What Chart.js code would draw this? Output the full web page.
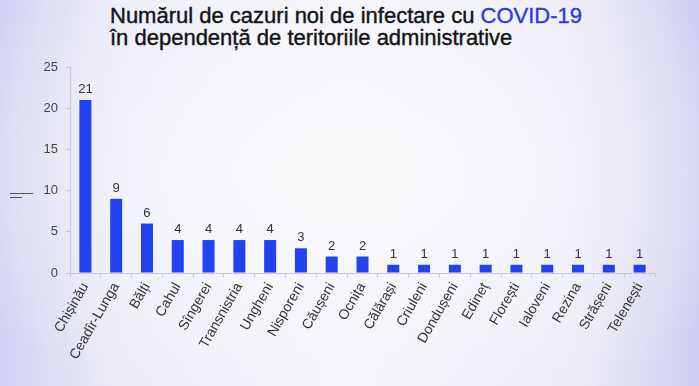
<!DOCTYPE html>
<html>
<head>
<meta charset="utf-8">
<script src="https://cdn.jsdelivr.net/npm/chart.js@4"></script>
<style>
  html, body { margin: 0; padding: 0; }
  body {
    width: 699px; height: 386px; overflow: hidden; position: relative;
    background:
      radial-gradient(ellipse 60% 70% at 50% 45%, rgba(250,250,252,1) 0%, rgba(246,246,251,0.6) 55%, rgba(246,246,251,0) 100%),
      linear-gradient(to right, #d2d2f4 0%, #ececf8 18%, #f4f4f9 50%, #ececf8 82%, #cfcff2 100%);
  }
  #title {
    position: absolute; left: 110px; top: 5px;
    font-family: "Liberation Sans", Arial, sans-serif; font-size: 22px; line-height: 22px;
    color: #141418; -webkit-text-stroke: 0.4px #141418;
  }
  #title .hl { color: #2b3fd6; -webkit-text-stroke: 0.4px #2b3fd6; }
  .mark { position: absolute; height: 1px; background: #555; }
  canvas { position: absolute; left: 0; top: 0; }
</style>
</head>
<body>
<div id="title">Numărul de cazuri noi de infectare cu <span class="hl">COVID-19</span><br>în dependență de teritoriile administrative</div>
<div class="mark" style="left:10px; top:193px; width:23px;"></div>
<div class="mark" style="left:10px; top:197px; width:12px;"></div>
<canvas id="chart" width="699" height="386"></canvas>
<script>
const categories = ['Chișinău', 'Ceadîr-Lunga', 'Bălți', 'Cahul', 'Sîngerei', 'Transnistria', 'Ungheni',
  'Nisporeni', 'Căușeni', 'Ocnița', 'Călărași', 'Criuleni', 'Dondușeni', 'Edineț', 'Florești',
  'Ialoveni', 'Rezina', 'Strășeni', 'Telenești'];
const cases = [21, 9, 6, 4, 4, 4, 4, 3, 2, 2, 1, 1, 1, 1, 1, 1, 1, 1, 1];
const yTicks = [0, 5, 10, 15, 20, 25];

const valueLabels = {
  id: 'valueLabels',
  afterDatasetsDraw(chart) {
    const ctx = chart.ctx;
    const meta = chart.getDatasetMeta(0);
    ctx.save();
    ctx.font = '13px "Liberation Sans", Arial, sans-serif';
    ctx.fillStyle = '#333';
    ctx.textAlign = 'center';
    ctx.textBaseline = 'bottom';
    meta.data.forEach((bar, i) => {
      ctx.fillText(String(cases[i]), bar.x, bar.y - 4);
    });
    ctx.restore();
  }
};

new Chart(document.getElementById('chart'), {
  type: 'bar',
  data: {
    labels: categories,
    datasets: [{
      data: cases,
      backgroundColor: '#2242f0',
      barPercentage: 0.78,
      categoryPercentage: 0.5
    }]
  },
  options: {
    responsive: false,
    animation: false,
    layout: { padding: { top: 67, right: 44, left: 0, bottom: 0 } },
    plugins: {
      legend: { display: false },
      tooltip: { enabled: false }
    },
    scales: {
      x: {
        grid: { drawOnChartArea: false, color: '#c8c8d4', tickLength: 4, offset: true },
        border: { color: '#c8c8d4' },
        ticks: {
          color: '#333',
          font: { family: '"Liberation Sans", Arial, sans-serif', size: 14 },
          minRotation: 60, maxRotation: 60, autoSkip: false, padding: 3
        },
        afterFit(scale) { scale.height = 113; }
      },
      y: {
        min: 0, max: 25,
        afterBuildTicks(scale) { scale.ticks = yTicks.map(v => ({ value: v })); },
        grid: { drawOnChartArea: false, color: '#c8c8d4', tickLength: 4 },
        border: { color: '#c8c8d4' },
        ticks: {
          color: '#444',
          font: { family: '"Liberation Sans", Arial, sans-serif', size: 13 },
          padding: 8
        },
        afterFit(scale) { scale.width = 70; }
      }
    }
  },
  plugins: [valueLabels]
});
</script>
</body>
</html>
